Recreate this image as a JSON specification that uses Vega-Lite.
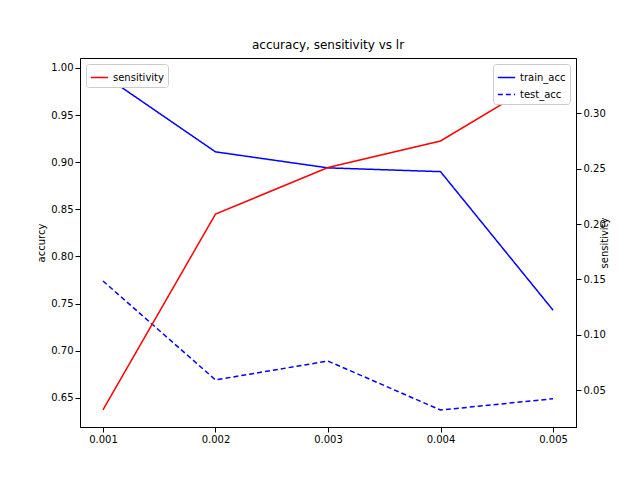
{
  "$schema": "https://vega.github.io/schema/vega-lite/v6.json",
  "width": 496,
  "height": 369,
  "autosize": {"type": "none"},
  "padding": {"left": 80, "top": 58, "right": 64, "bottom": 53},
  "title": {"text": "accuracy, sensitivity vs lr", "font": "DejaVu Sans", "fontSize": 12, "fontWeight": "normal", "offset": 6},
  "config": {
    "font": "DejaVu Sans",
    "view": {"stroke": "black"},
    "axis": {"grid": false, "labelFontSize": 10, "titleFontSize": 10, "titleFontWeight": "normal", "domainColor": "black", "tickColor": "black", "labelColor": "black"},
    "legend": {"labelFontSize": 10, "strokeColor": "#cccccc", "fillColor": "white", "padding": 4, "cornerRadius": 3, "symbolSize": 300, "offset": 6}
  },
  "data": {"values": [
    {"lr": 0.001, "series": "train_acc", "value": 0.993},
    {"lr": 0.002, "series": "train_acc", "value": 0.911},
    {"lr": 0.003, "series": "train_acc", "value": 0.894},
    {"lr": 0.004, "series": "train_acc", "value": 0.890},
    {"lr": 0.005, "series": "train_acc", "value": 0.743},
    {"lr": 0.001, "series": "test_acc", "value": 0.774},
    {"lr": 0.002, "series": "test_acc", "value": 0.669},
    {"lr": 0.003, "series": "test_acc", "value": 0.689},
    {"lr": 0.004, "series": "test_acc", "value": 0.637},
    {"lr": 0.005, "series": "test_acc", "value": 0.649},
    {"lr": 0.001, "series": "sensitivity", "value": 0.032},
    {"lr": 0.002, "series": "sensitivity", "value": 0.209},
    {"lr": 0.003, "series": "sensitivity", "value": 0.251},
    {"lr": 0.004, "series": "sensitivity", "value": 0.275},
    {"lr": 0.005, "series": "sensitivity", "value": 0.336}
  ]},
  "layer": [
    {
      "transform": [{"filter": "datum.series != 'sensitivity'"}],
      "mark": {"type": "line", "strokeWidth": 1.5},
      "encoding": {
        "x": {"field": "lr", "type": "quantitative", "scale": {"domain": [0.000796, 0.005204], "nice": false, "zero": false}, "axis": {"values": [0.001, 0.002, 0.003, 0.004, 0.005], "format": ".3f", "title": null}},
        "y": {"field": "value", "type": "quantitative", "scale": {"domain": [0.619, 1.0106], "nice": false, "zero": false}, "axis": {"values": [0.65, 0.7, 0.75, 0.8, 0.85, 0.9, 0.95, 1.0], "format": ".2f", "title": "accurcy"}},
        "color": {"field": "series", "type": "nominal", "scale": {"domain": ["train_acc", "test_acc"], "range": ["blue", "blue"]}, "legend": {"orient": "top-right", "title": null}},
        "strokeDash": {"field": "series", "type": "nominal", "scale": {"domain": ["train_acc", "test_acc"], "range": [[1, 0], [5, 3]]}, "legend": {"orient": "top-right", "title": null}}
      }
    },
    {
      "transform": [{"filter": "datum.series == 'sensitivity'"}],
      "mark": {"type": "line", "strokeWidth": 1.5},
      "encoding": {
        "x": {"field": "lr", "type": "quantitative"},
        "y": {"field": "value", "type": "quantitative", "scale": {"domain": [0.0166, 0.35], "nice": false, "zero": false}, "axis": {"orient": "right", "values": [0.05, 0.1, 0.15, 0.2, 0.25, 0.3], "format": ".2f", "title": "sensitivity", "titleAngle": 270}},
        "color": {"field": "series", "type": "nominal", "scale": {"domain": ["sensitivity"], "range": ["red"]}, "legend": {"orient": "top-left", "title": null}}
      }
    }
  ],
  "resolve": {"scale": {"y": "independent", "color": "independent", "strokeDash": "independent"}}
}
